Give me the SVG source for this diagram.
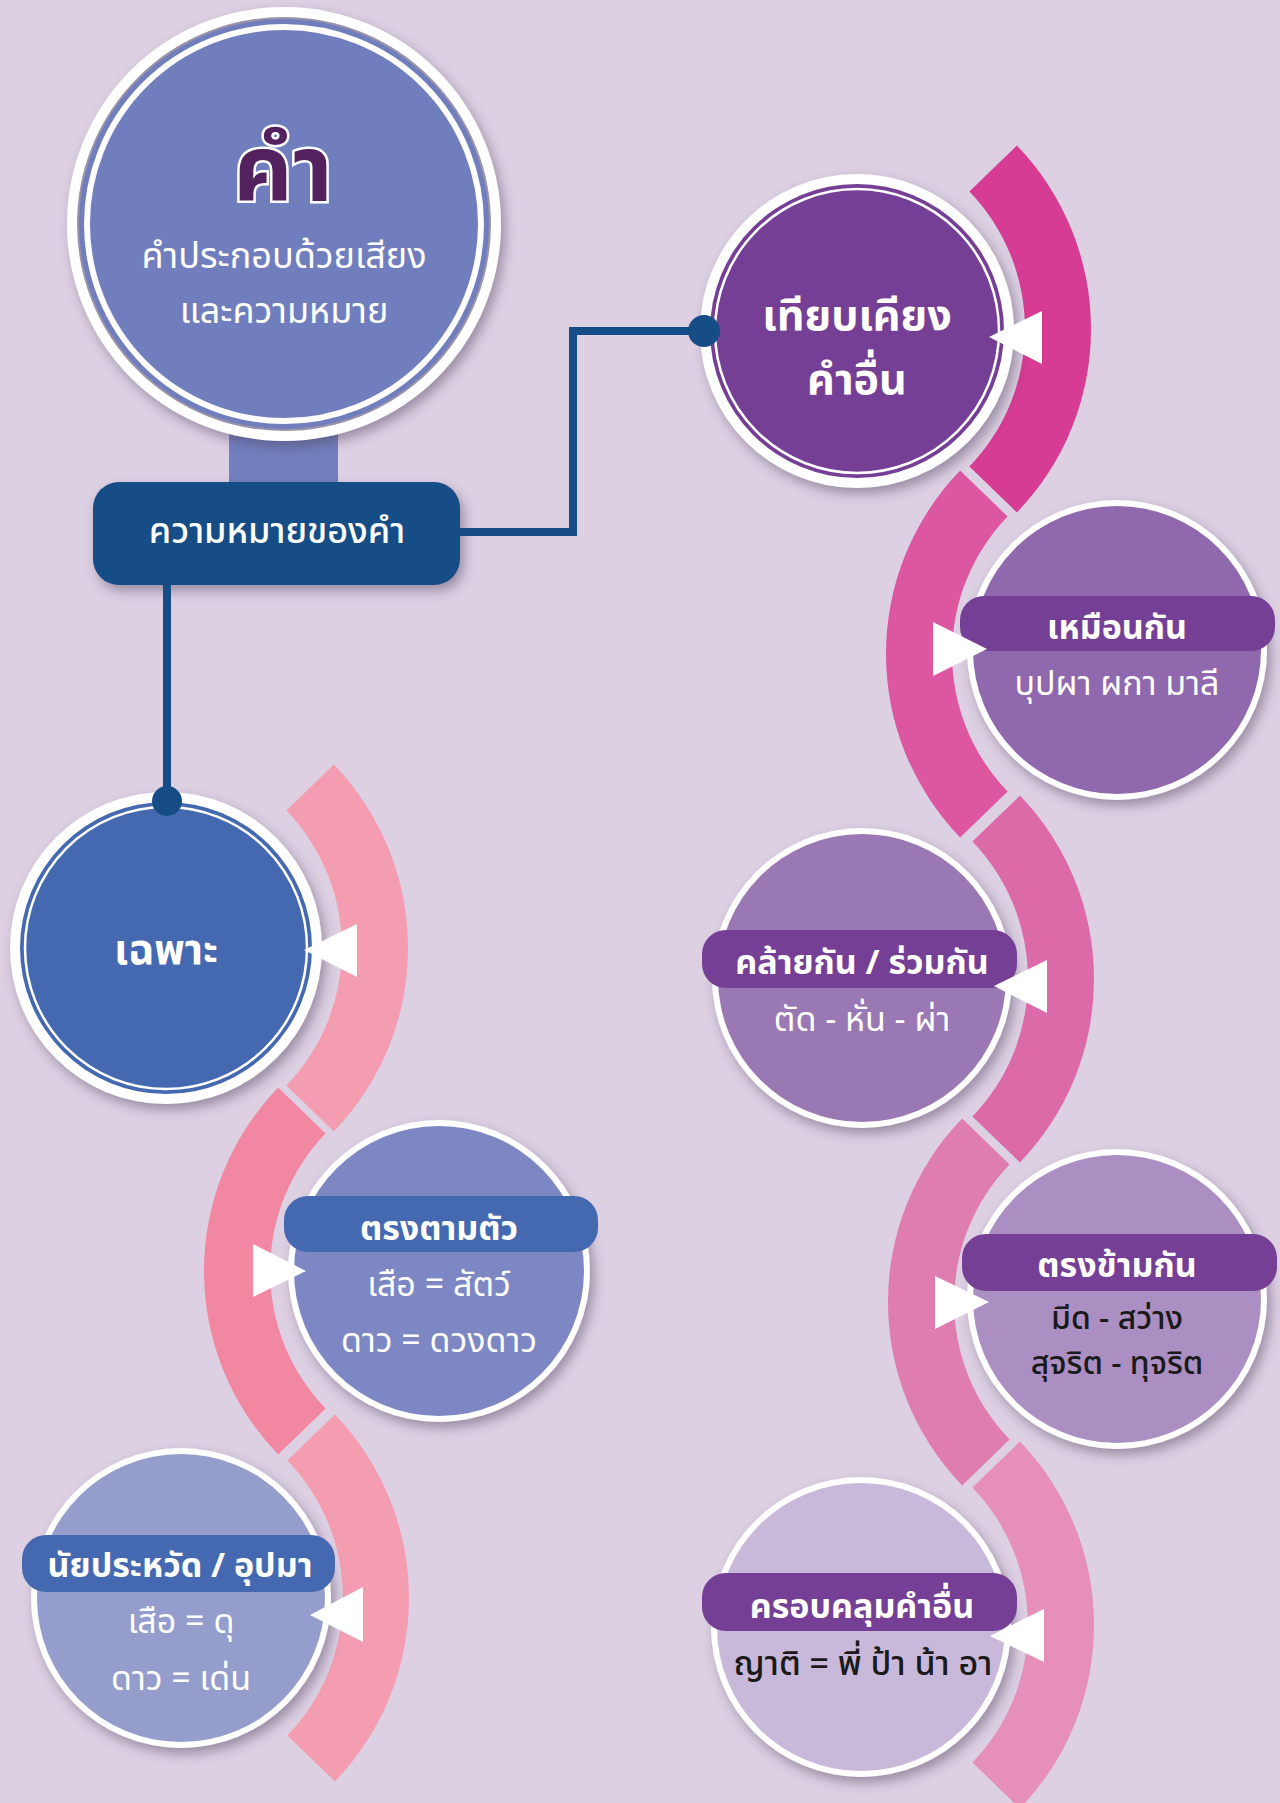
<svg xmlns="http://www.w3.org/2000/svg" width="1280" height="1803" viewBox="0 0 1280 1803">
<defs>
<filter id="sh" x="-20%" y="-20%" width="150%" height="150%">
<feDropShadow dx="4" dy="6" stdDeviation="6" flood-color="#4a3a5a" flood-opacity="0.45"/>
</filter>
<style>
text{font-family:"Noto Sans Thai","Noto Sans","DejaVu Sans",sans-serif;text-anchor:middle}
.w{fill:#ffffff}
.k{fill:#1a1a1a}
.t{font-size:34px}
.lb{font-size:34px;font-weight:700;fill:#ffffff}
.big{font-size:43px;font-weight:700;fill:#ffffff}
.tri{fill:#ffffff}
.ring{fill:#ffffff}
.bp{fill:#763f96}
.bb{fill:#4569b1}
</style>
</defs>
<rect width="1280" height="1803" fill="#dcd0e2"/>

<g id="arcs">
<path d="M1016.9,145.6 A264,264 0 0 1 1016.9,512.4 L969.4,466.5 A198,198 0 0 0 969.4,191.5 Z" fill="#d63c93"/>
<path d="M960.1,470.6 A264,264 0 0 0 960.1,837.4 L1007.6,791.5 A198,198 0 0 1 1007.6,516.5 Z" fill="#dc56a0"/>
<path d="M1019.9,795.6 A264,264 0 0 1 1019.9,1162.4 L972.4,1116.5 A198,198 0 0 0 972.4,841.5 Z" fill="#dc6aa8"/>
<path d="M962.1,1118.6 A264,264 0 0 0 962.1,1485.4 L1009.6,1439.5 A198,198 0 0 1 1009.6,1164.5 Z" fill="#e07db0"/>
<path d="M1019.9,1441.6 A264,264 0 0 1 1019.9,1808.4 L972.4,1762.5 A198,198 0 0 0 972.4,1487.5 Z" fill="#e58fba"/>
<path d="M333.9,764.6 A264,264 0 0 1 333.9,1131.4 L286.4,1085.5 A198,198 0 0 0 286.4,810.5 Z" fill="#f49db1"/>
<path d="M278.1,1087.6 A264,264 0 0 0 278.1,1454.4 L325.6,1408.5 A198,198 0 0 1 325.6,1133.5 Z" fill="#f287a2"/>
<path d="M334.9,1414.6 A264,264 0 0 1 334.9,1781.4 L287.4,1735.5 A198,198 0 0 0 287.4,1460.5 Z" fill="#f49db1"/>
</g>

<g id="node-kham">
<rect x="229" y="428" width="109" height="56" fill="#727fbd"/>
<circle cx="284" cy="224" r="217" class="ring" filter="url(#sh)"/>
<circle cx="284" cy="224" r="206" fill="#717ebd" stroke="#9a93a8" stroke-width="2"/>
<circle cx="284" cy="224" r="197" fill="none" stroke="#ffffff" stroke-width="6"/>
<text x="283" y="201" style="font-size:92px;font-weight:700;fill:#52215e;stroke:#ffffff;stroke-width:5px;paint-order:stroke">คำ</text>
<text x="284" y="268" class="w" style="font-size:36px">คำประกอบด้วยเสียง</text>
<text x="284" y="323" class="w" style="font-size:36px">และความหมาย</text>
</g>

<g id="node-meaning">
<rect x="93" y="482" width="367" height="103" rx="26" fill="#174d86" filter="url(#sh)"/>
<text x="277" y="543" class="w" style="font-size:36px;font-weight:500">ความหมายของคำ</text>
</g>

<g id="node-compare">
<circle cx="857" cy="331" r="157" class="ring" filter="url(#sh)"/>
<circle cx="857" cy="331" r="147" fill="#763f96"/>
<circle cx="857" cy="331" r="142" fill="none" stroke="#ffffff" stroke-width="2.5"/>
<text x="857" y="330" class="big">เทียบเคียง</text>
<text x="857" y="394" class="big">คำอื่น</text>
</g>

<g id="node-specific">
<circle cx="166" cy="948" r="156" class="ring" filter="url(#sh)"/>
<circle cx="166" cy="948" r="146" fill="#4569b1"/>
<circle cx="166" cy="948" r="141" fill="none" stroke="#ffffff" stroke-width="2.5"/>
<text x="166" y="964" class="big" style="font-size:42px">เฉพาะ</text>
</g>

<g id="node-same">
<circle cx="1117" cy="650" r="150" class="ring" filter="url(#sh)"/>
<circle cx="1117" cy="650" r="144" fill="#9068ad"/>
<rect x="960" y="596" width="315" height="55" rx="24" class="bp"/>
<text x="1117" y="639" class="lb">เหมือนกัน</text>
<text x="1117" y="695" class="w t">บุปผา ผกา มาลี</text>
</g>

<g id="node-similar">
<circle cx="862" cy="978" r="150" class="ring" filter="url(#sh)"/>
<circle cx="862" cy="978" r="144" fill="#9a78b4"/>
<rect x="702" y="930" width="315" height="58" rx="24" class="bp"/>
<text x="862" y="974" class="lb">คล้ายกัน / ร่วมกัน</text>
<text x="862" y="1031" class="w t">ตัด - หั่น - ผ่า</text>
</g>

<g id="node-opposite">
<circle cx="1117" cy="1299" r="150" class="ring" filter="url(#sh)"/>
<circle cx="1117" cy="1299" r="144" fill="#ab8fc3"/>
<rect x="962" y="1234" width="315" height="57" rx="24" class="bp"/>
<text x="1117" y="1277" class="lb">ตรงข้ามกัน</text>
<text x="1117" y="1329" class="k" style="font-size:32px;font-weight:500">มีด - สว่าง</text>
<text x="1117" y="1374" class="k" style="font-size:32px;font-weight:500">สุจริต - ทุจริต</text>
</g>

<g id="node-cover">
<circle cx="861" cy="1627" r="150" class="ring" filter="url(#sh)"/>
<circle cx="861" cy="1627" r="144" fill="#c8b8d9"/>
<rect x="702" y="1573" width="315" height="58" rx="24" class="bp"/>
<text x="862" y="1618" class="lb">ครอบคลุมคำอื่น</text>
<text x="863" y="1675" class="k t" style="font-weight:500">ญาติ = พี่ ป้า น้า อา</text>
</g>

<g id="node-literal">
<circle cx="439" cy="1271" r="151" class="ring" filter="url(#sh)"/>
<circle cx="439" cy="1271" r="145" fill="#7d87c3"/>
<rect x="284" y="1196" width="314" height="56" rx="24" class="bb"/>
<text x="439" y="1240" class="lb">ตรงตามตัว</text>
<text x="439" y="1296" class="w t">เสือ = สัตว์</text>
<text x="439" y="1352" class="w t">ดาว = ดวงดาว</text>
</g>

<g id="node-figurative">
<circle cx="181" cy="1598" r="150" class="ring" filter="url(#sh)"/>
<circle cx="181" cy="1598" r="144" fill="#949dcc"/>
<rect x="22" y="1535" width="313" height="57" rx="24" class="bb"/>
<text x="180" y="1577" class="lb">นัยประหวัด / อุปมา</text>
<text x="181" y="1633" class="w t">เสือ = ดุ</text>
<text x="181" y="1690" class="w t">ดาว = เด่น</text>
</g>

<g id="connectors" fill="none" stroke="#174d86" stroke-width="8">
<path d="M460,532 H573 V331 H704"/>
<path d="M167,585 V801"/>
<circle cx="704" cy="331" r="16" fill="#174d86" stroke="none"/>
<circle cx="167" cy="801" r="15" fill="#174d86" stroke="none"/>
</g>

<g id="arrows" class="tri">
<polygon points="989,337 1042,311 1042,364"/>
<polygon points="933,622 933,676 987,649"/>
<polygon points="994,986 1047,960 1047,1013"/>
<polygon points="935,1276 935,1329 989,1302"/>
<polygon points="990,1636 1044,1609 1044,1662"/>
<polygon points="304,950 357,924 357,977"/>
<polygon points="253,1244 253,1297 306,1271"/>
<polygon points="310,1615 363,1587 363,1642"/>
</g>
</svg>
